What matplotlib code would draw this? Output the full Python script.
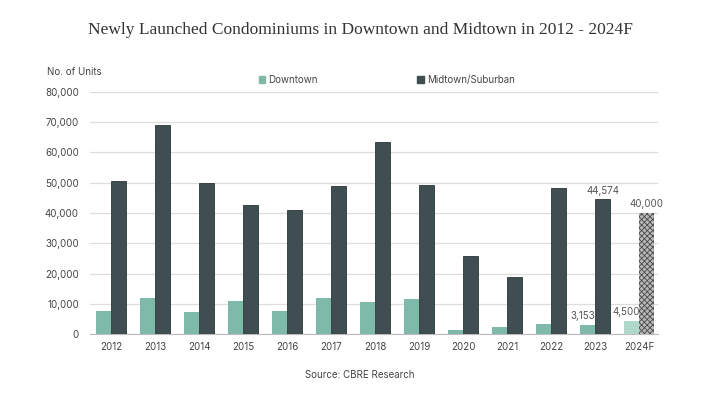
import numpy as np
import matplotlib.pyplot as plt
from matplotlib.patches import Patch

plt.rcParams['font.family'] = ['Inter', 'DejaVu Sans']
plt.rcParams['hatch.linewidth'] = 0.6

years = ["2012", "2013", "2014", "2015", "2016", "2017", "2018",
         "2019", "2020", "2021", "2022", "2023", "2024F"]
downtown = [7700, 11800, 7300, 10900, 7700, 12000, 10700,
            11700, 1400, 2400, 3500, 3153, 4500]
midtown = [50700, 69000, 49900, 42700, 40900, 48900, 63300,
           49300, 25700, 18800, 48400, 44574, 40000]

c_down = "#7fb9a9"
c_mid = "#3f4e50"

fig = plt.figure(figsize=(7.2, 4.05), dpi=100)
ax = fig.add_axes([0.125, 0.175, 0.789, 0.598])

x = np.arange(len(years))
w = 0.34
n = len(years) - 1  # last one is a forecast

ax.bar(x[:n] - w/2, downtown[:n], w, color=c_down, zorder=3)
ax.bar(x[:n] + w/2, midtown[:n], w, color=c_mid, edgecolor="#2c3536",
       linewidth=0.6, zorder=3)
ax.bar(x[n] - w/2, downtown[n], w, color="#a9d3c6", edgecolor="#c9e6dc",
       hatch="......", linewidth=0, zorder=3)
ax.bar(x[n] + w/2, midtown[n], w, color="#b8b8b8", edgecolor="#4a4a4a",
       hatch="xxxxxx", linewidth=0, zorder=3)

# value labels for the last two years
for i in (11, 12):
    ax.text(x[i] - w/2 - 0.12, downtown[i] + 1200, f"{downtown[i]:,}",
            ha="center", va="bottom", fontsize=7, color="#555555")
    ax.text(x[i] + w/2, midtown[i] + 1200, f"{midtown[i]:,}",
            ha="center", va="bottom", fontsize=7, color="#555555")

ax.set_xlim(-0.48, 12.43)
ax.set_ylim(0, 80000)
ax.set_yticks(np.arange(0, 80001, 10000))
ax.set_yticklabels([f"{v:,}" for v in range(0, 80001, 10000)])
ax.set_xticks(x)
ax.set_xticklabels(years)
ax.tick_params(axis="both", length=0, labelsize=7, colors="#444444")
ax.tick_params(axis="x", pad=6)
ax.tick_params(axis="y", pad=8)
ax.grid(axis="y", color="#dddddd", linewidth=0.9, zorder=0)
for s in ("top", "right", "left"):
    ax.spines[s].set_visible(False)
ax.spines["bottom"].set_color("#bbbbbb")

fig.text(0.5, 0.925, "Newly Launched Condominiums in Downtown and Midtown in 2012 - 2024F",
         ha="center", va="center", fontsize=12.5, color="#333333",
         family="Liberation Serif")
fig.text(0.065, 0.822, "No. of Units", ha="left", va="center",
         fontsize=7, color="#444444")
fig.text(0.5, 0.073, "Source: CBRE Research", ha="center", va="center",
         fontsize=7, color="#444444")

handles = [Patch(color=c_down, label="Downtown"),
           Patch(color=c_mid, label="Midtown/Suburban")]
fig.legend(handles=handles, loc="center", bbox_to_anchor=(0.537, 0.802),
           ncol=2, frameon=False, fontsize=7, handlelength=0.7,
           handleheight=0.7, handletextpad=0.3, columnspacing=10.2,
           labelcolor="#444444")

fig.savefig("out.png", dpi=100)
